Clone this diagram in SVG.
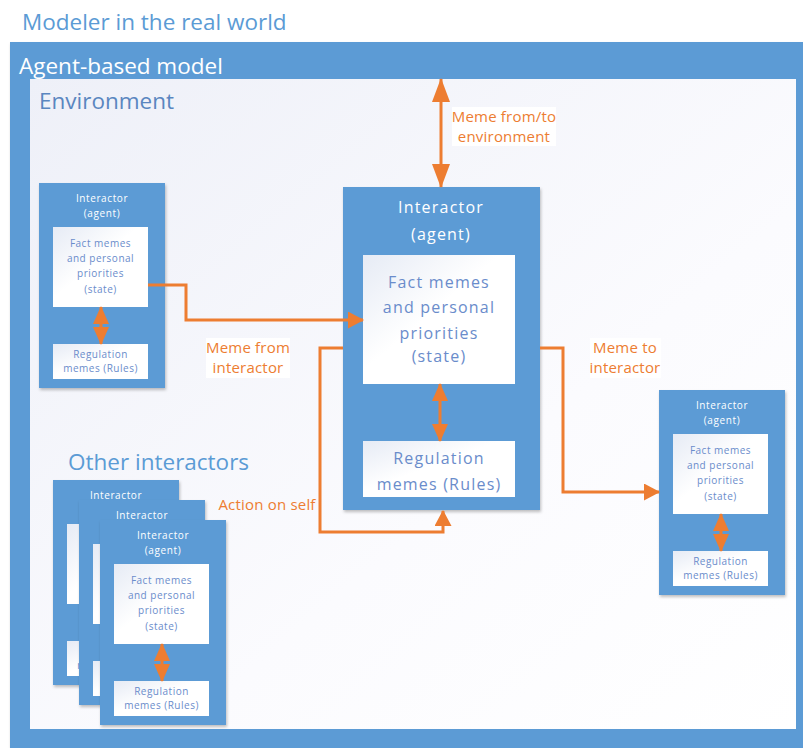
<svg xmlns="http://www.w3.org/2000/svg" width="803" height="748" viewBox="0 0 803 748">
  <defs>
    <linearGradient id="envFill" x1="0" y1="0" x2="1" y2="1">
      <stop offset="0" stop-color="#eef0f8"/>
      <stop offset="0.6" stop-color="#fbfbfe"/>
      <stop offset="1" stop-color="#ffffff"/>
    </linearGradient>
    <linearGradient id="cardFill" x1="0" y1="0" x2="1" y2="1">
      <stop offset="0" stop-color="#e6ebf5"/>
      <stop offset="0.45" stop-color="#ffffff"/>
      <stop offset="1" stop-color="#ffffff"/>
    </linearGradient>
    <filter id="shadow" x="-10%" y="-10%" width="130%" height="130%">
      <feDropShadow dx="1" dy="2" stdDeviation="1.5" flood-color="#000" flood-opacity="0.25"/>
    </filter>
    <marker id="arrow" viewBox="0 0 16 17" refX="15" refY="8.5" markerWidth="16" markerHeight="17" markerUnits="userSpaceOnUse" orient="auto-start-reverse">
      <path d="M0,0 L16,8.5 L0,17 Z" fill="#ed7d31"/>
    </marker>
    <marker id="arrowTall" viewBox="0 0 24 18" refX="23" refY="9" markerWidth="24" markerHeight="18" markerUnits="userSpaceOnUse" orient="auto-start-reverse">
      <path d="M0,0 L24,9 L0,18 Z" fill="#ed7d31"/>
    </marker>
    <marker id="arrowSmall" viewBox="0 0 18 16" refX="17" refY="8" markerWidth="18" markerHeight="16" markerUnits="userSpaceOnUse" orient="auto-start-reverse">
      <path d="M0,0 L18,8 L0,16 Z" fill="#ed7d31"/>
    </marker>

    <!-- small interactor card, 126 x 205 -->
    <g id="smallAgent">
      <rect class="blue" x="0" y="0" width="126" height="205" filter="url(#shadow)"/>
      <text class="sTitle" x="63" y="19">Interactor</text>
      <text class="sTitle" x="63" y="34">(agent)</text>
      <rect class="card" x="14" y="44" width="95" height="80"/>
      <text class="sBody" x="61.5" y="64">Fact memes</text>
      <text class="sBody" x="61.5" y="79">and personal</text>
      <text class="sBody" x="61.5" y="94">priorities</text>
      <text class="sBody" x="61.5" y="110">(state)</text>
      <rect class="card" x="14" y="161" width="95" height="35"/>
      <text class="sBody" x="61.5" y="175">Regulation</text>
      <text class="sBody" x="61.5" y="189">memes (Rules)</text>
      <line class="link" x1="62" y1="124" x2="62" y2="161" stroke-width="3" marker-start="url(#arrowSmall)" marker-end="url(#arrowSmall)"/>
    </g>
  </defs>

  <style>
    text { font-family: "Open Sans", "Noto Sans", "Liberation Sans", sans-serif; }
    .blue { fill: #5b9bd5; }
    .card { fill: url(#cardFill); }
    .heading { font-size: 22.5px; }
    .sTitle { font-size: 10px; letter-spacing: 0.6px; fill: #ffffff; text-anchor: middle; }
    .sBody { font-size: 10px; letter-spacing: 0.5px; fill: #6a8ccb; text-anchor: middle; }
    .bTitle { font-size: 16px; letter-spacing: 1.2px; fill: #ffffff; text-anchor: middle; }
    .bBody { font-size: 16px; letter-spacing: 1.2px; fill: #6a8ccb; text-anchor: middle; }
    .label { font-size: 15px; letter-spacing: 0.2px; fill: #ed7d31; text-anchor: middle; }
    .link { fill: none; stroke: #ed7d31; stroke-width: 3; }
  </style>

  <rect x="0" y="0" width="803" height="748" fill="#ffffff"/>

  <!-- outer frames -->
  <g id="real-world">
    <text class="heading" x="22" y="30" fill="#5b9bd5">Modeler in the real world</text>
  </g>
  <g id="agent-based-model">
    <rect class="blue" x="10" y="42" width="793" height="706" filter="url(#shadow)"/>
    <text class="heading" x="19" y="74" fill="#ffffff">Agent-based model</text>
  </g>
  <g id="environment">
    <rect x="30" y="79" width="766" height="650" fill="url(#envFill)"/>
    <text class="heading" x="39" y="109" fill="#5a86c0">Environment</text>
  </g>

  <!-- central interactor -->
  <g id="interactor-main">
    <rect class="blue" x="343" y="187" width="197" height="323" filter="url(#shadow)"/>
    <text class="bTitle" x="441" y="213">Interactor</text>
    <text class="bTitle" x="441" y="240">(agent)</text>
    <rect class="card" x="363" y="255" width="152" height="129"/>
    <text class="bBody" x="439" y="288">Fact memes</text>
    <text class="bBody" x="439" y="313">and personal</text>
    <text class="bBody" x="439" y="339">priorities</text>
    <text class="bBody" x="439" y="362">(state)</text>
    <rect class="card" x="363" y="441" width="152" height="56"/>
    <text class="bBody" x="439" y="464">Regulation</text>
    <text class="bBody" x="439" y="490">memes (Rules)</text>
    <line class="link" x1="440" y1="384" x2="440" y2="441" marker-start="url(#arrowSmall)" marker-end="url(#arrowSmall)"/>
  </g>

  <!-- neighbouring interactors -->
  <g id="interactor-left">
    <use href="#smallAgent" x="39" y="183"/>
  </g>
  <g id="interactor-right">
    <use href="#smallAgent" x="659" y="390"/>
  </g>

  <!-- stack of other interactors -->
  <g id="other-interactors">
    <text class="heading" x="68" y="470" fill="#5b9bd5">Other interactors</text>
  </g>
  <g id="other-1">
    <use href="#smallAgent" x="53" y="480"/>
  </g>
  <g id="other-2">
    <use href="#smallAgent" x="79" y="500"/>
  </g>
  <g id="other-3">
    <use href="#smallAgent" x="100" y="520"/>
  </g>

  <!-- connectors, drawn over the boxes -->
  <g id="connectors">
    <line class="link" x1="441" y1="79" x2="441" y2="187" marker-start="url(#arrowTall)" marker-end="url(#arrowTall)"/>
    <polyline class="link" points="148,285 186,285 186,320 363,320" marker-end="url(#arrow)"/>
    <polyline class="link" points="343,348 320,348 320,532 443,532 443,511" marker-end="url(#arrow)"/>
    <polyline class="link" points="540,348 563,348 563,492 659,492" marker-end="url(#arrow)"/>
  </g>

  <!-- connector labels -->
  <g id="labels">
    <rect x="452" y="107" width="104" height="39" fill="#ffffff"/>
    <text class="label" x="504" y="122">Meme from/to</text>
    <text class="label" x="504" y="142">environment</text>
    <rect x="206" y="338" width="84" height="40" fill="#ffffff"/>
    <text class="label" x="248" y="353">Meme from</text>
    <text class="label" x="248" y="373">interactor</text>
    <rect x="590" y="338" width="71" height="40" fill="#ffffff"/>
    <text class="label" x="625" y="353">Meme to</text>
    <text class="label" x="625" y="373">interactor</text>
    <text class="label" x="267" y="510">Action on self</text>
  </g>
</svg>
